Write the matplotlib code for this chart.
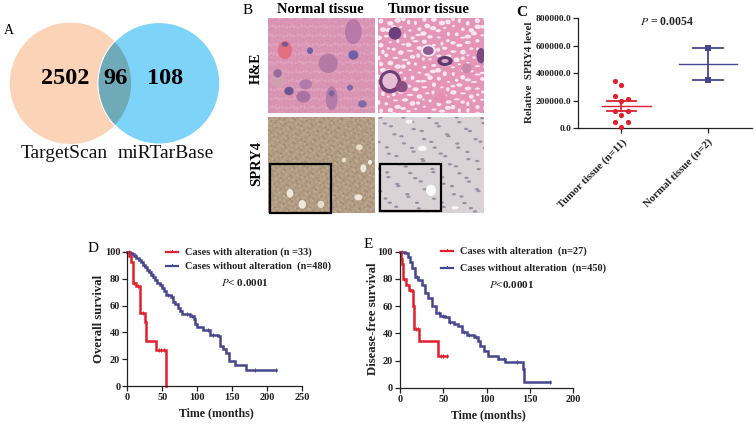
import matplotlib
matplotlib.use("Agg")
import matplotlib.pyplot as plt
from matplotlib.patches import Circle, Ellipse, Rectangle
import numpy as np

W, H = 756, 426
plt.rcParams["font.family"] = ["Liberation Serif", "DejaVu Serif"]
plt.rcParams["mathtext.fontset"] = "stix"

RED = "#e0202c"
BLUE = "#46468f"
AXC = "#222222"

# venn counts
venn_left = "2502"
venn_mid = "96"
venn_right = "108"
venn_names = ["TargetScan", "miRTarBase"]

# panel C
tumor_vals = [343000, 314000, 233000, 212000, 197000, 122000, 122000, 97000, 41000, 41000, 10000]
tumor_off = [-1, 0, -1, 1, 0, -1, 1, 0, -1, 1, 0]
tumor_mean, tumor_lo, tumor_hi = 160000, 125000, 195000
normal_vals = [587000, 353000]
normal_mean = 470000
c_ticks = [0, 200000, 400000, 600000, 800000]
c_labels = ["Tumor tissue (n=11)", "Normal tissue (n=2)"]

# panel D survival
d_red_t = [0, 3, 5.3, 7.7, 12.4, 18, 25.3, 26.7, 41, 55]
d_red_s = [100, 97, 92.6, 76.5, 74.8, 54.4, 48, 33.6, 27, 0]
d_red_cens = [9, 15, 22, 45, 48, 52]
d_blue_t = [0, 4, 7, 10, 13, 16, 19, 22, 25, 28, 31, 34, 37, 40, 43, 46, 49, 52, 55, 62, 65, 68, 72, 75, 78, 90,
            95, 97, 100, 108, 118, 130, 133, 137, 141, 145, 154, 170, 212]
d_blue_s = [100, 99, 98, 96.5, 95, 93.5, 92, 90, 88.5, 86.5, 85, 83, 81, 79, 77, 75, 73, 71, 67.5, 66, 63, 61, 58,
            56, 54, 52, 50, 46, 44, 42, 38, 37, 30, 28, 25, 19, 16, 12, 12]
d_blue_cens = [3, 12, 24, 36, 48, 58, 64, 85, 92, 115, 122, 182, 212]

# panel E survival
e_red_t = [0, 1, 2, 3, 7, 10, 13.5, 15, 16.5, 22, 43.5, 54]
e_red_s = [100, 95, 91, 80, 75.5, 72, 71, 60, 43, 34, 23, 23]
e_red_cens = [5, 12, 19, 21, 47, 50, 54]
e_blue_t = [0, 6, 9, 11.5, 14, 17, 21, 25, 29, 32.7, 37, 42, 46, 52, 56, 62, 67, 72, 77, 85, 90, 92, 97, 101, 113,
            119, 121, 140, 141.5, 143, 173]
e_blue_s = [100, 99, 96, 92.6, 88, 81.6, 79, 75.5, 70, 65.7, 60, 54.7, 53, 52, 48.5, 47, 45.6, 41, 38.7, 37.5, 34,
            31, 27, 23, 21, 21, 18.6, 18.6, 14, 4.4, 4.4]
e_blue_cens = [2, 20, 45, 50, 58, 74, 80, 88, 120, 135, 173]


def axes_px(x0, y0, x1, y1):
    return fig.add_axes([x0 / W, 1 - y0 / H, (x1 - x0) / W, (y0 - y1) / H])


def style(ax, size=7.5):
    for s in ["top", "right"]:
        ax.spines[s].set_visible(False)
    for s in ["left", "bottom"]:
        ax.spines[s].set_linewidth(0.9)
        ax.spines[s].set_color(AXC)
    ax.patch.set_alpha(0)
    ax.tick_params(length=3.5, width=0.9, color=AXC, labelsize=size, pad=1.5)
    for lab in ax.get_xticklabels() + ax.get_yticklabels():
        lab.set_fontweight("bold")
        lab.set_color(AXC)


def km(ax, t, s, cens, color):
    ax.step(t, s, where="post", color=color, lw=1.8, solid_joinstyle="miter", clip_on=False)
    t = np.array(t)
    s = np.array(s)
    idx = np.searchsorted(t, cens, side="right") - 1
    ax.plot(cens, s[idx], ls="none", marker="|", ms=3.5, mew=0.7, color=color, clip_on=False)


fig = plt.figure(figsize=(W / 100, H / 100), dpi=100)
bg = fig.add_axes([0, 0, 1, 1])
bg.set_xlim(0, W)
bg.set_ylim(H, 0)
bg.axis("off")

# A: venn
c1 = Circle((70.5, 83.3), 60.7, fc="#fbd3b6", ec="none")
c2 = Circle((159, 83.3), 60.9, fc="#7dd3f8", ec="white", lw=1)
bg.add_patch(c1)
bg.add_patch(c2)
lens = Circle((70.5, 83.3), 60.7, fc="#6faab8", ec="none", zorder=3)
bg.add_patch(lens)
lens.set_clip_path(Circle((159, 83.3), 60.5, transform=bg.transData))
for x, s in [(65, venn_left), (116, venn_mid), (165, venn_right)]:
    bg.text(x, 79, s, fontsize=17.5, fontweight="bold", ha="center", va="center", color="black", zorder=5)
bg.text(64, 154, venn_names[0], fontsize=14, ha="center", va="center", color="#111111")
bg.text(166, 154, venn_names[1], fontsize=14, ha="center", va="center", color="#111111")

# B: micrographs
boxes = {"he_n": (268, 18.3, 375, 113.3), "he_t": (378.3, 18.3, 484.3, 113.3),
         "ihc_n": (268, 117.3, 375, 212.7), "ihc_t": (378.3, 117.3, 484.3, 212.7)}
bases = {"he_n": "#dc97b6", "he_t": "#e596b8", "ihc_n": "#b29d84", "ihc_t": "#d9d3d5"}
for k, (x0, y0, x1, y1) in boxes.items():
    bg.add_patch(Rectangle((x0, y0), x1 - x0, y1 - y0, fc=bases[k], ec="none"))


def zoomed(items, oy, clip):
    for zx, zy, zw, zh, col in items:
        e = Ellipse((265 + zx / 3, oy + zy / 3), zw / 3, zh / 3, fc=col, ec="none", zorder=3)
        bg.add_patch(e)
        e.set_clip_path(Rectangle((clip[0], clip[1]), clip[2] - clip[0], clip[3] - clip[1], transform=bg.transData))


# fine mottling of the normal H&E and the brown stain, on a lattice
mottle = []
brown = []
grey = []
for i in range(38):
    for j in range(34):
        px = 10 + i * 9 + 3 * np.sin(j * 2.3 + i * 1.1)
        py = 8 + j * 9 + 3 * np.sin(i * 1.9 + j * 0.7)
        mottle.append((px, py, 6, 6, "#e2a8c3" if (i * 3 + j * 5) % 3 == 0 else "#d690b0"))
        brown.append((px, py, 6, 5, ["#9d876d", "#c2b09a", "#a8927a", "#bca78e"][(i * 3 + j * 5) % 4]))
for i in range(22):
    for j in range(20):
        if (i * 7 + j * 3) % 5 == 0:
            grey.append((346 + i * 15 + 6 * np.sin(j * 2.3 + i), 8 + j * 15 + 5 * np.sin(i * 1.9 + j * 0.7),
                         13, 7, "#9a90a0"))
zoomed(mottle, 15, boxes["he_n"])
zoomed(brown, 115, boxes["ihc_n"])
zoomed(grey, 115, boxes["ihc_t"])

zoomed([(265, 50, 50, 75, "#b878a8"), (60, 105, 42, 55, "#e0707f"), (60, 88, 20, 15, "#7a5a90"),
        (135, 107, 18, 20, "#6f5fa5"), (190, 145, 58, 58, "#b47aa5"), (265, 120, 30, 28, "#6f5fa8"),
        (38, 190, 45, 58, "#d0a0b0"), (38, 175, 25, 25, "#9a6a9c"), (122, 208, 38, 30, "#b07cae"),
        (115, 245, 42, 35, "#a873a0"), (72, 228, 28, 25, "#6f5590"), (200, 250, 35, 72, "#b47aa8"),
        (200, 235, 18, 18, "#7a62a0"), (255, 218, 18, 18, "#8068a8"), (292, 267, 26, 22, "#7f6aa5")], 15, boxes["he_n"])

# tumour H&E holes on a lattice
holes = []
for i in range(15):
    for j in range(14):
        holes.append((348 + i * 22 + 7 * np.sin(j * 2.1 + i), 18 + j * 22 + 7 * np.sin(i * 1.7 + j * 0.6),
                      14 + 5 * np.sin(i + j), 10 + 4 * np.cos(i * j), "#f9e6ee"))
zoomed(holes, 15, boxes["he_t"])
zoomed([(390, 55, 38, 38, "#6a3f7c"), (490, 107, 46, 36, "#f7e6ee"), (490, 107, 32, 26, "#8f5a90"),
        (540, 138, 46, 30, "#5f3a70"), (540, 138, 22, 12, "#d8a8c5"), (648, 122, 26, 46, "#7a4a80"),
        (375, 200, 66, 70, "#6f3f78"), (375, 198, 46, 48, "#e8bcd2"), (410, 215, 36, 34, "#8a4f80"),
        (605, 160, 30, 30, "#c888ad"), (528, 250, 36, 30, "#e48fb0")], 15, boxes["he_t"])

zoomed([(75, 235, 20, 26, "#efe7dc"), (112, 268, 22, 26, "#efe7dc"), (168, 268, 20, 22, "#e8dccb"),
        (283, 97, 20, 18, "#e8dccb"), (295, 160, 18, 24, "#efe7dc"), (280, 247, 24, 18, "#efe7dc"),
        (315, 142, 12, 14, "#f5efe8"), (237, 135, 14, 14, "#e8dccb")], 115, boxes["ihc_n"])
zoomed([(498, 226, 30, 34, "#fbfafa"), (472, 100, 26, 16, "#f8f6f6"), (432, 20, 22, 12, "#f8f6f6"),
        (570, 278, 22, 10, "#f8f6f6")], 115, boxes["ihc_t"])

bg.add_patch(Rectangle((269.5, 164), 61, 49, fc="none", ec="black", lw=1.6, zorder=6, clip_on=False))
bg.add_patch(Rectangle((379.5, 163.5), 61, 47.5, fc="none", ec="black", lw=1.6, zorder=6))
bg.text(320, 9.5, "Normal tissue", fontsize=10.5, fontweight="bold", ha="center", va="center")
bg.text(428, 9.5, "Tumor tissue", fontsize=10.5, fontweight="bold", ha="center", va="center")
bg.text(256, 68, "H&E", fontsize=10, fontweight="bold", rotation=90, ha="center", va="center")
bg.text(257, 164, "SPRY4", fontsize=10.5, fontweight="bold", rotation=90, ha="center", va="center")

# panel letters
bg.text(9, 31, "A", fontsize=10, ha="center", va="center")
bg.text(248, 10, "B", fontsize=11, ha="center", va="center")
bg.text(522, 12, "C", fontsize=11, fontweight="bold", ha="center", va="center")
bg.text(93, 249, "D", fontsize=11, ha="center", va="center")
bg.text(368, 245, "E", fontsize=11, ha="center", va="center")

# C: dot plot
ax = axes_px(578.3, 128, 751.7, 18.3)
ax.set_xlim(0.5, 2.507)
ax.set_ylim(0, 800000)
ax.set_xticks([1, 2])
ax.set_xticklabels(c_labels, rotation=45, ha="right", rotation_mode="anchor")
ax.set_yticks(c_ticks)
ax.set_yticklabels([f"{v:.1f}" for v in c_ticks])
style(ax, 6.8)
ax.tick_params(axis="x", labelsize=7.8, length=3.5, pad=3)
ax.scatter(1 + np.array(tumor_off) * 0.081, tumor_vals, s=14, color=RED, zorder=3, clip_on=False, lw=0)
ax.plot([0.77, 1.34], [tumor_mean, tumor_mean], color=RED, lw=1)
ax.plot([1, 1], [tumor_lo, tumor_hi], color=RED, lw=1.2)
for v in (tumor_lo, tumor_hi):
    ax.plot([0.83, 1.17], [v, v], color=RED, lw=1.3)
ax.scatter([2, 2], normal_vals, s=16, marker="s", color=BLUE, zorder=3, lw=0)
ax.plot([1.66, 2.34], [normal_mean, normal_mean], color=BLUE, lw=1)
ax.plot([2, 2], normal_vals, color=BLUE, lw=1.3)
for v in normal_vals:
    ax.plot([1.83, 2.17], [v, v], color=BLUE, lw=1.3)
bg.text(530, 72.5, "Relative  SPRY4 level", fontsize=7.8, fontweight="bold", rotation=90, ha="center",
        va="center", color=AXC)
bg.text(667, 22, r"$\mathit{P}$ = 0.0054", fontsize=8.5, fontweight="bold", ha="center", va="center", color=AXC)

# D
ax = axes_px(127.3, 386.3, 302.3, 251.7)
ax.set_xlim(0, 250)
ax.set_ylim(0, 100)
ax.set_xticks(range(0, 251, 50))
ax.set_yticks(range(0, 101, 20))
style(ax)
km(ax, d_blue_t, d_blue_s, d_blue_cens, BLUE)
km(ax, d_red_t, d_red_s, d_red_cens, RED)
bg.text(99, 319, "Overall survival", fontsize=9.2, fontweight="bold", rotation=90, ha="center", va="center", color=AXC)
bg.text(216, 413, "Time (months)", fontsize=8.6, fontweight="bold", ha="center", va="center", color=AXC)

# E
ax = axes_px(400, 387.7, 573.3, 251.7)
ax.set_xlim(0, 200)
ax.set_ylim(0, 100)
ax.set_xticks(range(0, 201, 50))
ax.set_yticks(range(0, 101, 20))
style(ax)
km(ax, e_blue_t, e_blue_s, e_blue_cens, BLUE)
km(ax, e_red_t, e_red_s, e_red_cens, RED)
bg.text(372.7, 319, "Disease-free survival", fontsize=9.2, fontweight="bold", rotation=90, ha="center", va="center", color=AXC)
bg.text(488, 415, "Time (months)", fontsize=8.6, fontweight="bold", ha="center", va="center", color=AXC)

# legends, written by hand as in the figure
for x0, x1, tx, y1, y2, n1, n2, px, py, ptxt in [
    (165.7, 178.3, 185, 251.7, 266, "Cases with alteration (n =33)", "Cases without alteration  (n=480)", 221, 282,
     r"$\mathit{P}$< 0.0001"),
    (441, 453.3, 460.3, 251, 267.7, "Cases with alteration  (n=27)", "Cases without alteration  (n=450)", 489, 285,
     r"$\mathit{P}$<0.0001"),
]:
    bg.plot([x0, x1], [y1, y1], color=RED, lw=1.6)
    bg.plot([(x0 + x1) / 2] * 2, [y1 - 2, y1], color=RED, lw=0.7)
    bg.plot([x0, x1], [y2, y2], color=BLUE, lw=1.6)
    bg.plot([(x0 + x1) / 2] * 2, [y2 - 2, y2], color=BLUE, lw=0.7)
    bg.text(tx, y1, n1, fontsize=7.4, fontweight="bold", va="center", color=AXC)
    bg.text(tx, y2, n2, fontsize=7.4, fontweight="bold", va="center", color=AXC)
    bg.text(px, py, ptxt, fontsize=8, fontweight="bold", va="center", color=AXC)

fig.savefig("out.png", dpi=100)
